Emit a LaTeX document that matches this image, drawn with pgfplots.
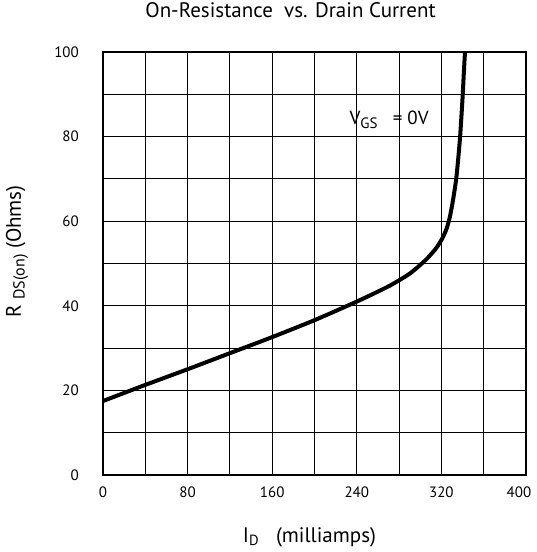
\documentclass[border=0pt]{standalone}
\usepackage{pgfplots}
\pgfplotsset{compat=1.18}
\usepackage{fontspec}
\setmainfont{PT Sans}
\begin{document}
\begin{tikzpicture}
\useasboundingbox (-103pt,-77pt) rectangle (433pt,475pt);
\begin{axis}[
  scale only axis,
  width=423pt, height=423pt,
  xmin=0, xmax=400, ymin=0, ymax=100,
  xtick={0,80,...,400}, minor xtick={40,120,...,360},
  xticklabels={0,80,160,240,320,\hspace*{-14pt}400},
  ytick={0,20,...,100}, minor ytick={10,30,...,90},
  grid=both,
  major grid style={black, line width=0.8pt},
  minor grid style={black, line width=0.8pt},
  tick style={draw=none},
  axis line style={line width=1.8pt},
  /pgf/number format/assume math mode=true,
  ticklabel style={font=\fontsize{15}{17}\selectfont, inner sep=0pt},
  xticklabel style={anchor=center, yshift=-17pt},
  yticklabel style={anchor=east, xshift=-24pt},
  title={On-Resistance\ \ vs. Drain Current},
  title style={font=\fontsize{21}{23}\selectfont, at={(axis description cs:0.5,1)}, anchor=center, yshift=36pt, xshift=-24pt},
  xlabel={I\textsubscript{D}\ \ \ (milliamps)},
  xlabel style={font=\fontsize{21}{23}\selectfont, at={(axis description cs:0.5,0)}, anchor=center, yshift=-62pt, xshift=-5pt},
  ylabel={R\ \raisebox{-0.35ex}{\fontsize{16}{18}\selectfont DS(on)}\ (Ohms)},
  ylabel style={font=\fontsize{21}{23}\selectfont, at={(axis description cs:0,0.5)}, anchor=center, yshift=86pt, xshift=12pt},
]
\addplot[black, line width=4pt, smooth, tension=0.4] coordinates {
  (-2,17.3) (40,21.3) (80,25) (120,28.8) (160,32.6) (200,36.6) (240,41)
  (270,44.6) (290,47.6) (305,50.8) (315,53.6) (321,56) (325,58.3)
  (328,61) (331,65) (334,70) (336,75) (337.7,80) (339,85) (340.2,90)
  (341.2,95) (342.3,100) (342.8,103)
};
\node[anchor=west, inner sep=0pt, font=\fontsize{19}{21}\selectfont] at (axis cs:233,84)
  {V\raisebox{-0.35ex}{\fontsize{15}{17}\selectfont GS}\ \ \ = 0V};
\end{axis}
\end{tikzpicture}
\end{document}
